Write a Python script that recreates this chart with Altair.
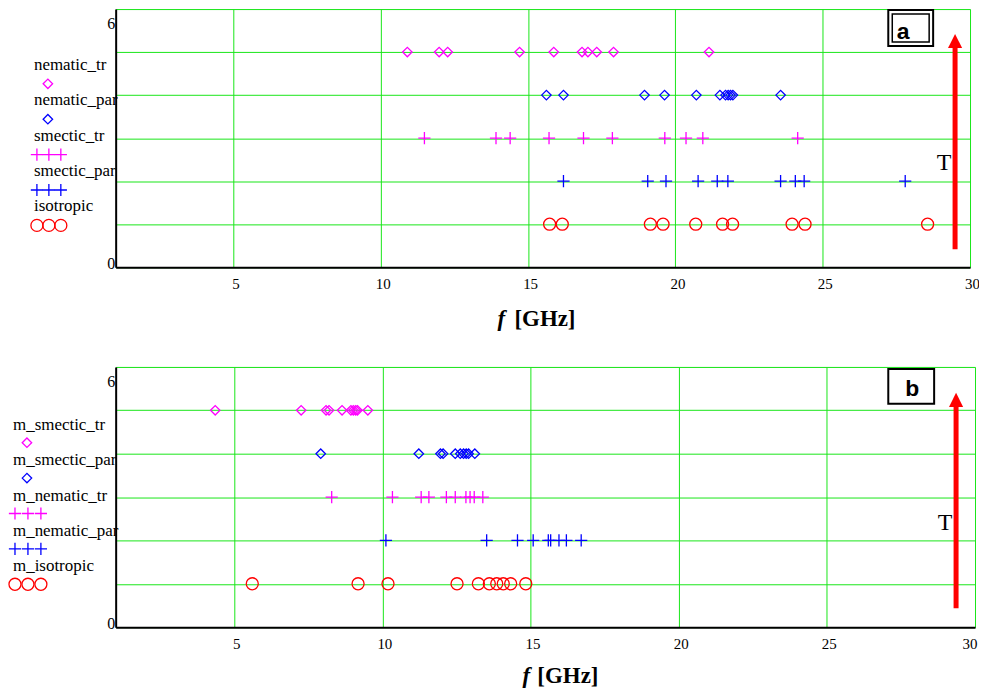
import altair as alt
import pandas as pd

# ---------------- data ----------------
# panel a
a_names = ["nematic_tr", "nematic_par", "smectic_tr", "smectic_par", "isotropic"]
a_levels = [5, 4, 3, 2, 1]
a_nematic_tr = [10.90, 11.98, 12.27, 14.71, 15.87, 16.83, 17.03, 17.33, 17.90, 21.14]
a_nematic_par = [15.62, 16.20, 18.95, 19.63, 20.71, 21.51, 21.70, 21.79, 21.87, 21.95, 23.57]
a_smectic_tr = [11.48, 13.91, 14.39, 15.71, 16.88, 17.86, 19.64, 20.36, 20.93, 24.15]
a_smectic_par = [16.20, 19.06, 19.68, 20.77, 21.42, 21.78, 23.57, 24.07, 24.37, 27.80]
a_isotropic = [15.73, 16.16, 19.15, 19.58, 20.69, 21.60, 21.94, 23.96, 24.40, 28.56]

# panel b
b_names = ["m_smectic_tr", "m_smectic_par", "m_nematic_tr", "m_nematic_par", "m_isotropic"]
b_levels = [5, 4, 3, 2, 1]
b_smectic_tr = [4.36, 7.26, 8.10, 8.20, 8.64, 8.94, 9.02, 9.10, 9.16, 9.51]
b_smectic_par = [7.92, 11.23, 11.96, 12.05, 12.46, 12.63, 12.74, 12.83, 12.91, 13.12]
b_nematic_tr = [8.29, 10.34, 11.31, 11.57, 12.16, 12.46, 12.82, 12.96, 13.10, 13.39]
b_nematic_par = [10.12, 13.52, 14.56, 15.09, 15.60, 15.68, 15.96, 16.21, 16.71]
b_isotropic = [5.61, 9.18, 10.19, 12.52, 13.24, 13.61, 13.86, 14.08, 14.33, 14.84]

x_ticks = [5, 10, 15, 20, 25, 30]
y_ticks = [0, 1, 2, 3, 4, 5, 6]

# ---------------- styles ----------------
GREEN = "#19e619"
MAGENTA = "#ff00ff"
BLUE = "#0000ff"
RED = "#ff0000"
SERIF = "Liberation Serif"
SANS = "Liberation Sans"
CROSS = "M-1,0L1,0M0,-1L0,1"
HEAD = "M0,-1L1,1L-1,1Z"

# marker style per series slot (diamond magenta, diamond blue, cross magenta, cross blue, circle red)
styles = [
    dict(shape="diamond", color=MAGENTA, size=90),
    dict(shape="diamond", color=BLUE, size=90),
    dict(shape=CROSS, color=MAGENTA, size=150),
    dict(shape=CROSS, color=BLUE, size=150),
    dict(shape="circle", color=RED, size=145),
]


def make_panel(names, levels, values, W, H, leg, box, arrow, tlabel, flush):
    x_axis = alt.Axis(
        values=x_ticks, grid=True, gridColor=GREEN, gridWidth=1, gridOpacity=1,
        domain=True, domainColor="black", domainWidth=2, ticks=False,
        labelFont=SERIF, labelFontSize=15, labelColor="black", labelPadding=9,
        labelOffset=2, labelFlush=flush, title=None,
    )
    y_axis = alt.Axis(
        values=y_ticks, grid=True, gridColor=GREEN, gridWidth=1, gridOpacity=1,
        domain=True, domainColor="black", domainWidth=2, ticks=False,
        labelExpr="(datum.value == 0 || datum.value == 6) ? datum.label : ''",
        labelFont=SERIF, labelFontSize=16, labelColor="black", labelPadding=1,
        labelBaseline="alphabetic",
        labelOffset={"condition": {"test": "datum.value == 6", "value": 20}, "value": 1},
        title=None,
    )
    xs = alt.Scale(domain=[1, 30], nice=False, zero=False)
    ys = alt.Scale(domain=[0, 6], nice=False, zero=False)

    layers = []
    for name, lev, vals, st in zip(names, levels, values, styles):
        df = pd.DataFrame({"f": vals, "level": [lev] * len(vals), "series": [name] * len(vals)})
        layers.append(
            alt.Chart(df).mark_point(
                shape=st["shape"], color=st["color"], size=st["size"], filled=False,
                strokeWidth=1.3, opacity=1,
            ).encode(
                x=alt.X("f:Q", scale=xs, axis=x_axis),
                y=alt.Y("level:Q", scale=ys, axis=y_axis),
            )
        )

    # legend (label above symbol, Mathcad style)
    for i, (name, st) in enumerate(zip(names, styles)):
        ty = leg["text_y0"] + i * leg["step"]
        sy = leg["sym_y0"] + i * leg["step"]
        layers.append(
            alt.Chart().mark_text(
                text=name, font=SERIF, fontSize=17, color="black", align="left",
                baseline="alphabetic",
            ).encode(x=alt.value(leg["text_x"]), y=alt.value(ty))
        )
        sx_list = [leg["single_x"]] if st["shape"] == "diamond" else leg["triple_x"]
        for sx in sx_list:
            layers.append(
                alt.Chart().mark_point(
                    shape=st["shape"], color=st["color"], size=st["size"], filled=False,
                    strokeWidth=1.3, opacity=1,
                ).encode(x=alt.value(sx), y=alt.value(sy))
            )

    # label box
    layers.append(
        alt.Chart().mark_rect(fill="white", stroke="black", strokeWidth=2).encode(
            x=alt.value(box["x0"]), x2=alt.value(box["x1"]),
            y=alt.value(box["y0"]), y2=alt.value(box["y1"]))
    )
    if box["double"]:
        layers.append(
            alt.Chart().mark_rect(fill="white", stroke="black", strokeWidth=1.5).encode(
                x=alt.value(box["x0"] + 4), x2=alt.value(box["x1"] - 4),
                y=alt.value(box["y0"] + 4), y2=alt.value(box["y1"] - 4))
        )
    layers.append(
        alt.Chart().mark_text(
            text=box["label"], font=SANS, fontWeight="bold", fontSize=23, color="black",
            align="center", baseline="alphabetic",
        ).encode(x=alt.value(box["tx"]), y=alt.value(box["ty"]))
    )

    # red temperature arrow
    layers.append(
        alt.Chart().mark_rule(color=RED, strokeWidth=5).encode(
            x=alt.value(arrow["x"]), y=alt.value(arrow["base"]), y2=alt.value(arrow["bottom"]))
    )
    layers.append(
        alt.Chart().mark_point(shape=HEAD, filled=True, color=RED, size=200, opacity=1,
                               strokeWidth=0).encode(
            x=alt.value(arrow["x"]), y=alt.value(arrow["head"]))
    )
    layers.append(
        alt.Chart().mark_text(text="T", font=SERIF, fontSize=24, color="black",
                              align="center", baseline="alphabetic").encode(
            x=alt.value(arrow["tx"]), y=alt.value(arrow["ty"]))
    )

    # axis title "f [GHz]"
    layers.append(
        alt.Chart().mark_text(text="f", font=SERIF, fontSize=23, fontWeight="bold",
                              fontStyle="italic", color="black", align="left",
                              baseline="alphabetic").encode(
            x=alt.value(tlabel["fx"]), y=alt.value(tlabel["y"]))
    )
    layers.append(
        alt.Chart().mark_text(text="[GHz]", font=SERIF, fontSize=23, fontWeight="bold",
                              color="black", align="left", baseline="alphabetic").encode(
            x=alt.value(tlabel["gx"]), y=alt.value(tlabel["y"]))
    )

    return alt.layer(*layers).properties(width=W, height=H)


panel_a = make_panel(
    a_names, a_levels,
    [a_nematic_tr, a_nematic_par, a_smectic_tr, a_smectic_par, a_isotropic],
    857, 259,
    leg=dict(text_x=-82, text_y0=61, sym_y0=75, step=35.5, single_x=-68, triple_x=[-79, -67, -55]),
    box=dict(x0=775, x1=820, y0=1, y1=37, double=True, label="a", tx=790, ty=30),
    arrow=dict(x=842, base=39, bottom=241, head=32, tx=831, ty=161),
    tlabel=dict(fx=383, gx=400, y=318),
    flush=False,
)

panel_b = make_panel(
    b_names, b_levels,
    [b_smectic_tr, b_smectic_par, b_nematic_tr, b_nematic_par, b_isotropic],
    862, 261,
    leg=dict(text_x=-103, text_y0=63, sym_y0=76, step=35.5, single_x=-89, triple_x=[-101, -88, -75]),
    box=dict(x0=775, x1=821, y0=2, y1=37, double=False, label="b", tx=799, ty=29),
    arrow=dict(x=843, base=40, bottom=242, head=33, tx=832, ty=164),
    tlabel=dict(fx=408, gx=423, y=317),
    flush=True,
)

chart = alt.vconcat(panel_a, panel_b, spacing=34).properties(
    padding={"left": -3, "top": -1, "right": -1, "bottom": -1}
).configure_view(stroke="black", strokeWidth=1.5).configure(background="white")

chart.save("out.html", embed_options={"renderer": "svg", "actions": False})
